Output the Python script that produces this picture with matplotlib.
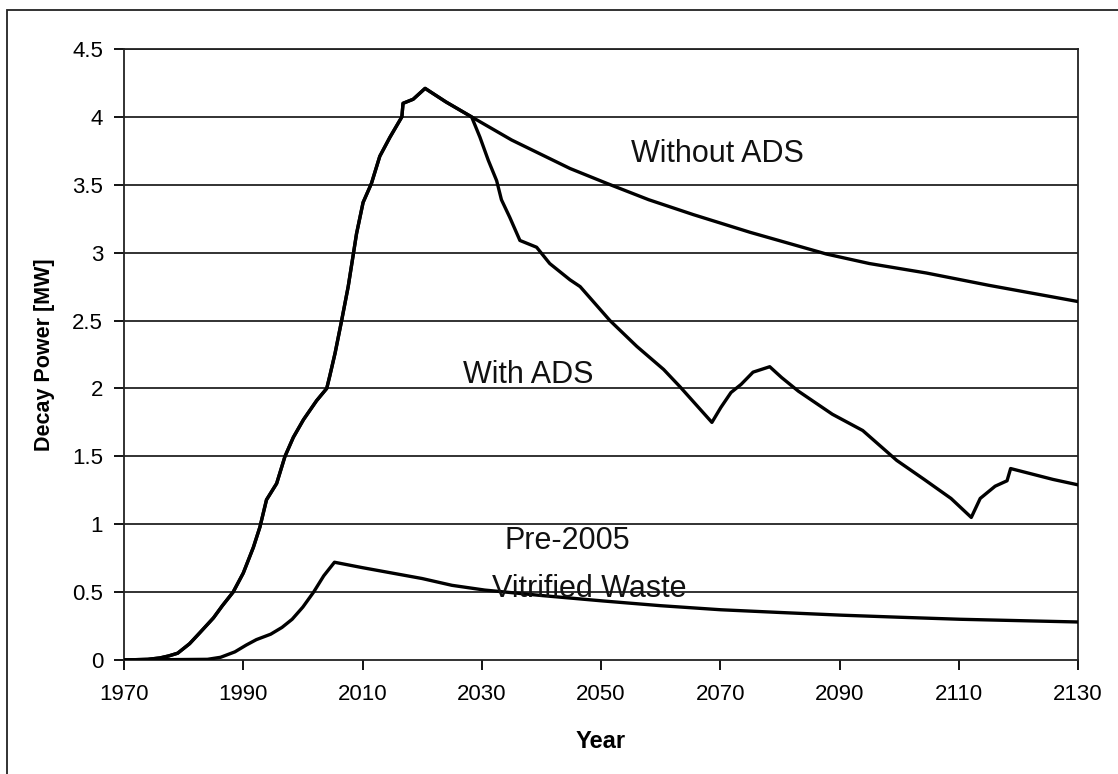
import numpy as np
import matplotlib.pyplot as plt
from matplotlib.patches import Rectangle

plt.rcParams['font.family'] = ['Liberation Sans', 'DejaVu Sans']

# shared rise (with / without ADS are identical up to ~2028)
rise_years = [1970, 1974, 1976, 1977.5, 1979, 1981, 1982.7, 1985, 1986.5, 1988.3,
              1990, 1991.7, 1992.8, 1993.9, 1995.6, 1997, 1998.4, 2000.1, 2002.3,
              2004, 2004.5, 2005.4, 2006.5, 2007.6, 2008.5, 2009, 2010.1, 2011.5,
              2012.9, 2014.6, 2016.6, 2016.8, 2018.5, 2020.5, 2024, 2028.3]
rise_vals = [0, 0.005, 0.015, 0.03, 0.05, 0.12, 0.20, 0.31, 0.40, 0.50,
             0.64, 0.83, 0.98, 1.18, 1.30, 1.50, 1.64, 1.77, 1.91,
             2.00, 2.09, 2.26, 2.50, 2.75, 3.00, 3.14, 3.37, 3.51,
             3.71, 3.85, 4.00, 4.10, 4.13, 4.21, 4.11, 4.00]

# without ADS: decay after 2028
wo_years = [2035, 2044.8, 2051, 2058, 2065.5, 2075, 2087.8, 2095, 2104.6, 2115,
            2127.5, 2130]
wo_vals = [3.83, 3.62, 3.51, 3.39, 3.28, 3.15, 2.99, 2.92, 2.85, 2.76,
           2.66, 2.64]

# with ADS: after 2028
w_years = [2029.7, 2031.1, 2032.5, 2033.3, 2034.7, 2036.4, 2039.2, 2041.4, 2044.8,
           2046.5, 2051.5, 2056, 2060.5, 2063.3, 2068.6, 2070.1, 2071.8, 2073.5,
           2075.5, 2078.3, 2080.3, 2083.1, 2088.8, 2093.9, 2099.6, 2104.2, 2108.7,
           2112.1, 2113.6, 2116.1, 2118.1, 2118.7, 2125.8, 2130]
w_vals = [3.85, 3.68, 3.53, 3.39, 3.26, 3.09, 3.04, 2.92, 2.80,
          2.75, 2.50, 2.31, 2.14, 2.01, 1.75, 1.86, 1.97, 2.03,
          2.12, 2.16, 2.08, 1.98, 1.81, 1.69, 1.47, 1.33, 1.19,
          1.05, 1.19, 1.28, 1.32, 1.41, 1.33, 1.29]

# pre-2005 vitrified waste
vit_years = [1970, 1984, 1986.2, 1988.6, 1990.5, 1992.2, 1994.6, 1996.5, 1998.2,
             2000, 2001.8, 2003.5, 2005.3, 2010, 2015, 2020, 2025, 2030.5, 2040,
             2050.3, 2060, 2070.1, 2080, 2090.4, 2100, 2110.2, 2120, 2130]
vit_vals = [0, 0.005, 0.02, 0.06, 0.11, 0.15, 0.19, 0.24, 0.30,
            0.39, 0.50, 0.62, 0.72, 0.68, 0.64, 0.60, 0.55, 0.515, 0.475,
            0.435, 0.40, 0.37, 0.35, 0.33, 0.315, 0.30, 0.29, 0.28]

yticks = np.arange(0, 4.51, 0.5)
ytick_labels = ['0', '0.5', '1', '1.5', '2', '2.5', '3', '3.5', '4', '4.5']
xticks = np.arange(1970, 2131, 20)

fig = plt.figure(figsize=(11.18, 7.74), dpi=100)
ax = fig.add_axes([124/1118, 1-660/774, (1078-124)/1118, (660-49)/774])

for yv in yticks[1:]:
    ax.axhline(yv, color='#222222', lw=1.3, zorder=1)

ax.plot(rise_years + wo_years, rise_vals + wo_vals, color='black', lw=2.4, zorder=3)
ax.plot(rise_years + w_years, rise_vals + w_vals, color='black', lw=2.4, zorder=3)
ax.plot(vit_years, vit_vals, color='black', lw=2.4, zorder=3)

ax.set_xlim(1970, 2130)
ax.set_ylim(0, 4.5)
ax.set_xticks(xticks)
ax.set_yticks(yticks)
ax.set_yticklabels(ytick_labels)
ax.tick_params(axis='both', direction='out', length=7, width=1.3, labelsize=16,
               colors='black')
ax.tick_params(axis='y', pad=8)
ax.tick_params(axis='x', pad=10)
for s in ax.spines.values():
    s.set_linewidth(1.3)
    s.set_color('#222222')

ax.set_xlabel('Year', fontsize=17, fontweight='bold', labelpad=18)
ax.set_ylabel('Decay Power [MW]', fontsize=15.5, fontweight='bold', labelpad=12)

ax.text(2069.6, 3.73, 'Without ADS', fontsize=22, ha='center', va='center',
        color='#111111')
ax.text(2037.8, 2.10, 'With ADS', fontsize=22, ha='center', va='center',
        color='#111111')
ax.text(2044.3, 0.88, 'Pre-2005', fontsize=22, ha='center', va='center',
        color='#111111')
ax.text(2048.0, 0.52, 'Vitrified Waste', fontsize=22, ha='center', va='center',
        color='#111111')

# outer chart border
fig.patches.append(Rectangle((7/1118, -0.1), 1.2, 1.1 - 10/774, transform=fig.transFigure,
                             fill=False, edgecolor='#222222', lw=1.3))

fig.savefig('out.png', dpi=100)
